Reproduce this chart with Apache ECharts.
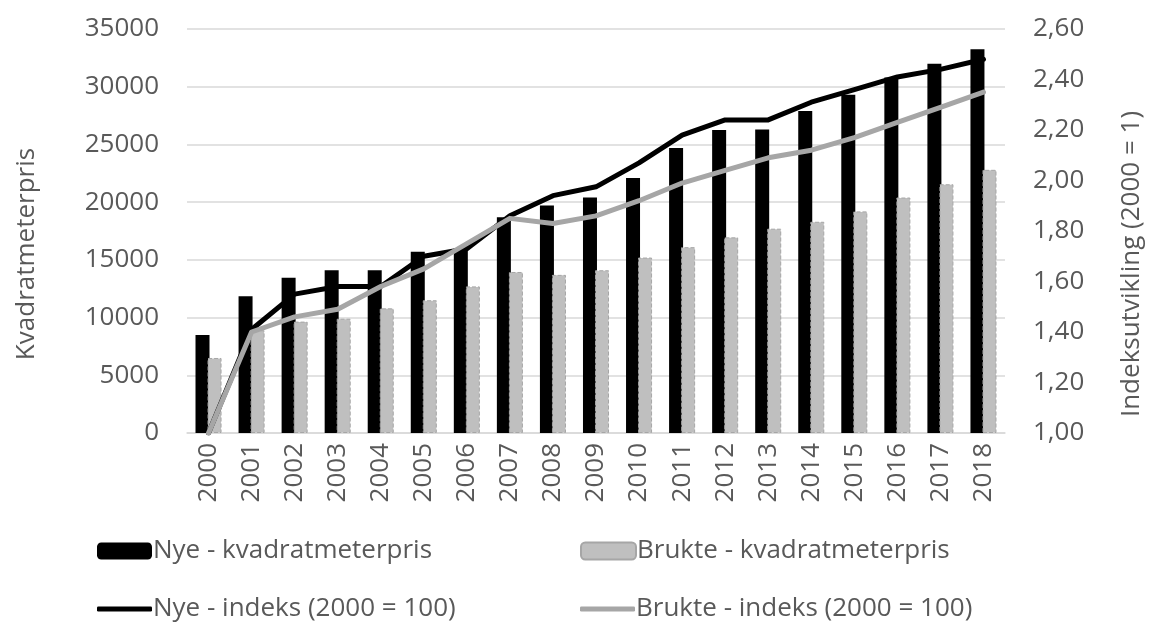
<!DOCTYPE html>
<html>
<head>
<meta charset="utf-8">
<script src="https://cdn.jsdelivr.net/npm/echarts@6/dist/echarts.min.js"></script>
<style>
  html, body { margin: 0; padding: 0; background: #fff; }
  #main { width: 1155px; height: 628px; }
</style>
</head>
<body>
<div id="main"></div>
<script>
// årstall
const years = ['2000', '2001', '2002', '2003', '2004', '2005', '2006', '2007', '2008', '2009',
  '2010', '2011', '2012', '2013', '2014', '2015', '2016', '2017', '2018']
// kvadratmeterpris, kr
const nyePris = [8500, 11850, 13450, 14100, 14100, 15700, 16000, 18700, 19700, 20400,
  22100, 24700, 26250, 26300, 27900, 29300, 30800, 32000, 33250]
const bruktePris = [6500, 8900, 9650, 9900, 10800, 11500, 12700, 13950, 13700, 14100,
  15200, 16100, 16950, 17700, 18300, 19200, 20400, 21550, 22800]
// indeks, 2000 = 1
const nyeIndeks = [1.00, 1.41, 1.55, 1.58, 1.58, 1.70, 1.73, 1.86, 1.94, 1.975,
  2.07, 2.18, 2.24, 2.24, 2.31, 2.36, 2.41, 2.44, 2.48]
const brukteIndeks = [1.00, 1.40, 1.46, 1.49, 1.58, 1.65, 1.75, 1.85, 1.83, 1.86,
  1.92, 1.99, 2.04, 2.09, 2.12, 2.17, 2.23, 2.29, 2.35]

const txt = '#595959'
const font = 'Open Sans'
const fs = 26

const names = ['Nye - kvadratmeterpris', 'Brukte - kvadratmeterpris',
  'Nye - indeks (2000 = 100)', 'Brukte - indeks (2000 = 100)']

function legendAt(name, left, top, w, h, icon) {
  return {
    data: [name], left: left, top: top, itemWidth: w, itemHeight: h, icon: icon,
    padding: 0,
    textStyle: { color: txt, fontFamily: font, fontSize: fs, padding: [0, 0, 0, -4] },
    selectedMode: false
  }
}

const chart = echarts.init(document.getElementById('main'))
chart.setOption({
  animation: false,
  textStyle: { fontFamily: font },
  grid: { left: 187, right: 150, top: 29, bottom: 195 },
  legend: [
    legendAt(names[0], 97, 538, 55, 17),
    legendAt(names[1], 580, 538, 55, 17),
    legendAt(names[2], 97, 596, 55, 5, 'roundRect'),
    legendAt(names[3], 580, 596, 55, 5, 'roundRect')
  ],
  xAxis: {
    type: 'category',
    data: years,
    axisLine: { lineStyle: { color: '#d9d9d9', width: 1.5 } },
    axisTick: { show: false },
    axisLabel: { rotate: 90, color: txt, fontSize: fs, fontFamily: font, margin: 10 }
  },
  yAxis: [
    {
      type: 'value', min: 0, max: 35000, interval: 5000,
      name: 'Kvadratmeterpris', nameLocation: 'middle', nameGap: 147, nameRotate: 90,
      nameTextStyle: { color: txt, fontSize: fs, fontFamily: font, padding: [0, 46, 0, 0] },
      axisLabel: { color: txt, fontSize: fs, fontFamily: font, margin: 28, formatter: v => String(v) },
      splitLine: { lineStyle: { color: '#d9d9d9', width: 1.5 } }
    },
    {
      type: 'value', min: 1, max: 2.6, interval: 0.2,
      name: 'Indeksutvikling (2000 = 1)', nameLocation: 'middle', nameGap: 114, nameRotate: 90,
      nameTextStyle: { color: txt, fontSize: fs, fontFamily: font, padding: [0, 66, 0, 0] },
      axisLabel: {
        color: txt, fontSize: fs, fontFamily: font, margin: 28,
        formatter: v => v.toFixed(2).replace('.', ',')
      },
      splitLine: { show: false }
    }
  ],
  series: [
    {
      name: names[0], type: 'bar', data: nyePris, barWidth: 14, barGap: '-14%',
      itemStyle: { color: '#000000' }
    },
    {
      name: names[1], type: 'bar', data: bruktePris, barWidth: 14,
      itemStyle: { color: '#bfbfbf', borderColor: '#a6a6a6', borderWidth: 1, borderType: 'dashed' }
    },
    {
      name: names[2], type: 'line', yAxisIndex: 1, data: nyeIndeks,
      symbol: 'none', lineStyle: { color: '#000000', width: 5, cap: 'round', join: 'round' },
      itemStyle: { color: '#000000' }
    },
    {
      name: names[3], type: 'line', yAxisIndex: 1, data: brukteIndeks,
      symbol: 'none', lineStyle: { color: '#a6a6a6', width: 5, cap: 'round', join: 'round' },
      itemStyle: { color: '#a6a6a6' }
    }
  ]
})
</script>
</body>
</html>
